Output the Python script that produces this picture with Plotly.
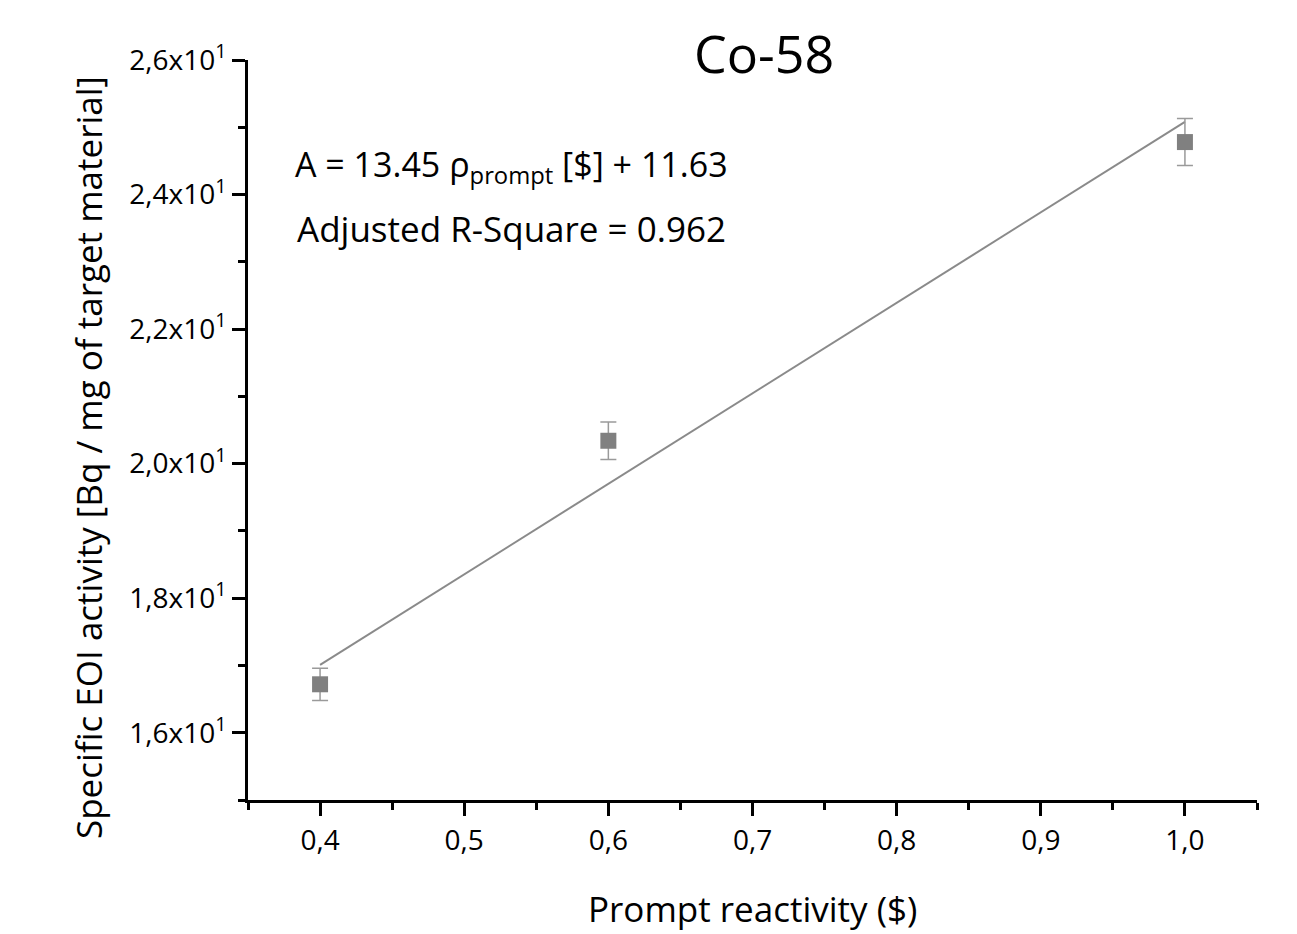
import plotly.graph_objects as go

# Measured specific EOI activity vs prompt reactivity (Co-58)
reactivity = [0.4, 0.6, 1.0]
activity = [16.72, 20.34, 24.78]
activity_err = [0.24, 0.28, 0.35]

# Linear fit parameters
slope = 13.45
intercept = 11.63
adj_r2 = 0.962

x_tickvals = [0.4, 0.5, 0.6, 0.7, 0.8, 0.9, 1.0]
x_ticktext = ["0,4", "0,5", "0,6", "0,7", "0,8", "0,9", "1,0"]
x_minorvals = [0.35, 0.45, 0.55, 0.65, 0.75, 0.85, 0.95, 1.05]

y_tickvals = [16, 18, 20, 22, 24, 26]
y_ticktext = ["1,6x10<sup>1</sup>", "1,8x10<sup>1</sup>", "2,0x10<sup>1</sup>",
              "2,2x10<sup>1</sup>", "2,4x10<sup>1</sup>", "2,6x10<sup>1</sup>"]
y_minorvals = [15, 17, 19, 21, 23, 25]

FONT = "Open Sans"

fit_x = [min(reactivity), max(reactivity)]
fit_y = [slope * v + intercept for v in fit_x]

fig = go.Figure()

fig.add_trace(go.Scatter(
    x=fit_x, y=fit_y, mode="lines",
    line=dict(color="#8a8a8a", width=2),
    showlegend=False, hoverinfo="skip",
))

fig.add_trace(go.Scatter(
    x=reactivity, y=activity, mode="markers",
    marker=dict(symbol="square", size=16, color="#808080"),
    error_y=dict(type="data", array=activity_err, visible=True,
                 color="#9a9a9a", thickness=1.5, width=8),
    showlegend=False,
))

axis_common = dict(
    showline=True, linecolor="black", linewidth=3,
    ticks="outside", tickwidth=3, tickcolor="black", ticklen=13,
    showgrid=False, zeroline=False, mirror=False,
    tickfont=dict(family=FONT, size=28, color="black"),
)

fig.update_xaxes(
    range=[0.35, 1.05], tickmode="array",
    tickvals=x_tickvals, ticktext=x_ticktext,
    minor=dict(tickmode="array", tickvals=x_minorvals, ticks="outside",
               ticklen=7, tickwidth=3, tickcolor="black"),
    **axis_common,
)
fig.update_yaxes(
    range=[15, 26], tickmode="array",
    tickvals=y_tickvals, ticktext=y_ticktext,
    minor=dict(tickmode="array", tickvals=y_minorvals, ticks="outside",
               ticklen=7, tickwidth=3, tickcolor="black"),
    **axis_common,
)

# Axis titles
fig.add_annotation(
    text="Prompt reactivity ($)", x=0.5, y=-0.146, xref="paper", yref="paper",
    xanchor="center", yanchor="middle", showarrow=False,
    font=dict(family=FONT, size=35, color="black"),
)
fig.add_annotation(
    text="Specific EOI activity [Bq / mg of target material]",
    x=-0.1586, y=0.4635, xref="paper", yref="paper", textangle=-90,
    xanchor="center", yanchor="middle", showarrow=False,
    font=dict(family=FONT, size=35, color="black"),
)

# Chart title
fig.add_annotation(
    text="Co-58", x=0.5, y=1.0, xref="paper", yref="paper",
    xanchor="center", yanchor="middle", xshift=11, yshift=8,
    showarrow=False, font=dict(family=FONT, size=52, color="black"),
)

# Fit equation and goodness of fit
fig.add_annotation(
    text=f"A = {slope:.2f} ρ<sub>prompt</sub> [$] + {intercept:.2f}",
    x=0.533, y=24.42, xref="x", yref="y", xanchor="center", yanchor="middle",
    showarrow=False, font=dict(family=FONT, size=34, color="black"),
)
fig.add_annotation(
    text=f"Adjusted R-Square = {adj_r2:.3f}",
    x=0.533, y=23.50, xref="x", yref="y", xanchor="center", yanchor="middle",
    showarrow=False, font=dict(family=FONT, size=35, color="black"),
)

fig.update_layout(
    width=1297, height=934,
    margin=dict(l=248, r=40, t=60, b=134),
    paper_bgcolor="white", plot_bgcolor="white",
    font=dict(family=FONT, color="black"),
)

fig.write_html("out.html")
